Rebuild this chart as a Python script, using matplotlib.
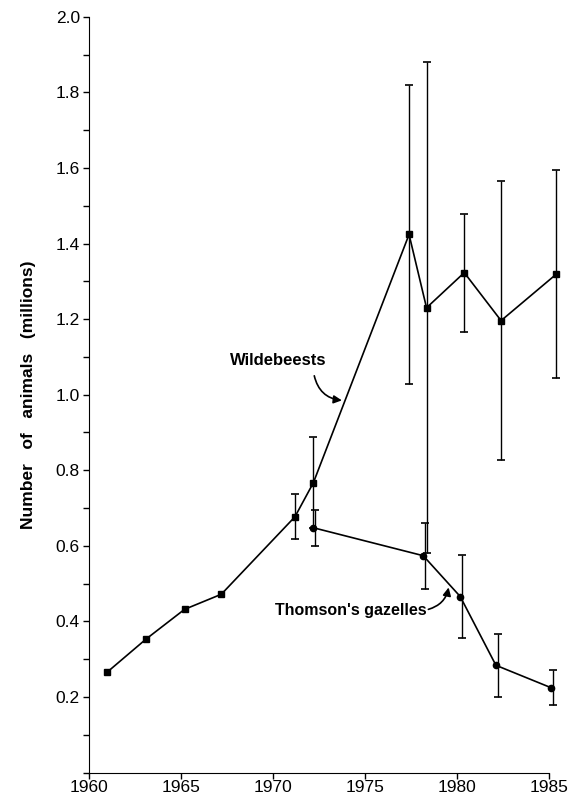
import numpy as np
import matplotlib.pyplot as plt
from matplotlib.ticker import MultipleLocator

plt.rcParams['font.family'] = ['Liberation Sans', 'DejaVu Sans']

# Wildebeests
wb_years = np.array([1961, 1963.1, 1965.2, 1967.2, 1971.2, 1972.2, 1977.4, 1978.35, 1980.4, 1982.4, 1985.4])
wb_num = np.array([0.266, 0.353, 0.432, 0.472, 0.677, 0.767, 1.424, 1.230, 1.323, 1.196, 1.319])
wb_err = np.array([0, 0, 0, 0, 0.06, 0.12, 0.395, 0.65, 0.156, 0.37, 0.275])

# Thomson's gazelles
tg_years = np.array([1972.2, 1978.17, 1980.18, 1982.12, 1985.1])
tg_num = np.array([0.648, 0.574, 0.466, 0.284, 0.225])
tg_err = np.array([0.048, 0.087, 0.11, 0.083, 0.047])

fig = plt.figure(figsize=(5.73, 7.99), dpi=100)
ax = fig.add_axes([0.155, 0.033, 0.803, 0.946])

ax.plot(wb_years, wb_num, color='black', lw=1.2, marker='s', ms=5, clip_on=False, zorder=3)
m = wb_err > 0
ax.errorbar(wb_years[m], wb_num[m], yerr=wb_err[m], fmt='none', ecolor='black',
            elinewidth=1.0, capsize=3, capthick=1.2, clip_on=False)

ax.plot(tg_years, tg_num, color='black', lw=1.2, marker='o', ms=4.5, clip_on=False, zorder=3)
ax.errorbar(tg_years + 0.1, tg_num, yerr=tg_err, fmt='none', ecolor='black',
            elinewidth=1.0, capsize=3, capthick=1.2, clip_on=False)

# labels with curved arrows
ax.text(1970.3, 1.09, 'Wildebeests', ha='center', va='center', fontsize=12, fontweight='bold')
ax.annotate('', xy=(1973.75, 0.985), xytext=(1972.25, 1.05),
            arrowprops=dict(arrowstyle='-|>', color='black', lw=1.2,
                            connectionstyle='arc3,rad=0.35', shrinkA=0, shrinkB=0,
                            mutation_scale=12))
ax.text(1978.35, 0.429, "Thomson's gazelles", ha='right', va='center', fontsize=11.5, fontweight='bold')
ax.annotate('', xy=(1979.55, 0.49), xytext=(1978.45, 0.432),
            arrowprops=dict(arrowstyle='-|>', color='black', lw=1.2,
                            connectionstyle='arc3,rad=0.3', shrinkA=0, shrinkB=0,
                            mutation_scale=12))

ax.set_xlim(1960, 1985)
ax.set_ylim(0, 2.0)
ax.set_xticks([1960, 1965, 1970, 1975, 1980, 1985])
ax.set_yticks([0.2, 0.4, 0.6, 0.8, 1.0, 1.2, 1.4, 1.6, 1.8, 2.0])
ax.yaxis.set_minor_locator(MultipleLocator(0.1))
ax.tick_params(axis='both', which='major', direction='out', length=4, width=1, labelsize=12.5)
ax.tick_params(axis='x', pad=1.5)
ax.tick_params(axis='y', pad=2.5)
ax.tick_params(axis='y', which='minor', direction='out', length=4, width=1)
ax.spines['top'].set_visible(False)
ax.spines['right'].set_visible(False)
ax.set_ylabel('Number   of   animals   (millions)', fontsize=12.5, fontweight='bold', labelpad=14)

plt.savefig('out.png')
